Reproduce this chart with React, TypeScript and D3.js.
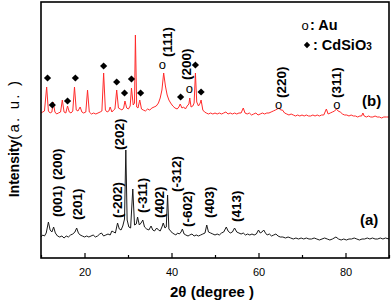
import { useEffect, useRef } from 'react'
import * as d3 from 'd3'

// pattern (a): [2θ, intensity]
const curveA: [number, number][] = [
  [10.0, 21], [10.4, 23], [10.8, 22], [11.2, 25], [11.7, 36], [12.1, 28], [12.5, 26], [12.9, 31], [13.3, 25],
  [13.8, 22], [14.3, 21], [14.8, 22], [15.3, 20], [15.8, 22], [16.3, 21], [16.8, 23], [17.3, 24], [17.8, 26],
  [18.2, 30], [18.6, 25], [19.0, 23], [19.5, 22], [20.0, 21], [20.5, 22], [21.0, 21], [21.5, 22], [22.0, 23],
  [22.5, 21], [23.0, 22], [23.5, 24], [23.9, 25], [24.4, 22], [24.9, 23], [25.4, 24], [25.9, 23], [26.3, 27],
  [26.7, 26], [27.1, 25], [27.6, 35], [28.0, 29], [28.4, 28], [28.8, 32], [29.2, 39], [29.5, 108], [29.8, 38],
  [30.2, 31], [30.6, 30], [31.1, 69], [31.5, 33], [31.9, 34], [32.2, 41], [32.6, 33], [33.0, 35], [33.4, 38],
  [33.8, 31], [34.3, 29], [34.8, 28], [35.3, 32], [35.7, 28], [36.1, 27], [36.6, 30], [37.0, 28], [37.4, 27],
  [37.8, 31], [38.1, 35], [38.5, 30], [38.8, 31], [39.1, 63], [39.4, 29], [39.8, 27], [40.2, 25], [40.6, 24],
  [41.0, 23], [41.4, 25], [41.8, 24], [42.2, 26], [42.5, 29], [42.9, 24], [43.3, 23], [43.8, 22], [44.2, 23],
  [44.7, 24], [45.2, 22], [45.7, 23], [46.2, 22], [46.7, 23], [47.2, 24], [47.7, 25], [48.1, 33], [48.5, 26],
  [49.0, 25], [49.5, 24], [50.0, 23], [50.5, 24], [51.0, 23], [51.5, 25], [52.0, 26], [52.6, 31], [53.0, 27],
  [53.5, 25], [54.0, 26], [54.5, 30], [55.0, 26], [55.5, 25], [56.0, 24], [56.5, 25], [57.0, 23], [57.5, 24],
  [58.0, 23], [58.5, 24], [59.0, 23], [59.5, 24], [60.0, 28], [60.4, 25], [60.8, 26], [61.2, 28], [61.6, 25],
  [62.0, 23], [62.5, 24], [63.0, 22], [63.5, 23], [64.0, 24], [64.5, 22], [65.0, 21], [65.6, 21], [66.2, 20],
  [66.8, 21], [67.4, 20], [68.0, 19], [68.6, 20], [69.2, 19], [69.8, 20], [70.4, 19], [71.0, 20], [71.6, 19],
  [72.2, 19], [72.8, 20], [73.4, 19], [74.0, 18], [74.6, 19], [75.2, 20], [75.8, 19], [76.4, 18], [77.0, 19],
  [77.8, 21], [78.4, 19], [79.0, 18], [79.6, 19], [80.2, 18], [80.8, 19], [81.4, 19], [82.0, 20], [82.6, 19],
  [83.2, 18], [83.8, 19], [84.4, 19], [85.0, 20], [85.6, 19], [86.2, 20], [86.8, 19], [87.4, 19], [88.0, 20],
  [88.6, 19], [89.2, 20], [90.0, 19],
]

// pattern (b): [2θ, intensity]
const curveB: [number, number][] = [
  [10.0, 145], [10.4, 146], [10.8, 147], [11.3, 171], [11.7, 147], [12.1, 145], [12.5, 146], [12.8, 156],
  [13.2, 146], [13.6, 144], [14.0, 145], [14.5, 146], [14.9, 158], [15.3, 146], [15.7, 145], [16.1, 152],
  [16.5, 146], [16.9, 145], [17.3, 147], [17.7, 171], [18.1, 148], [18.5, 147], [19.0, 151], [19.4, 146],
  [19.8, 145], [20.3, 146], [20.7, 168], [21.1, 146], [21.6, 144], [22.1, 145], [22.6, 144], [23.1, 145],
  [23.6, 146], [24.0, 147], [24.4, 185], [24.8, 148], [25.2, 146], [25.6, 147], [25.9, 151], [26.3, 146],
  [26.7, 148], [27.0, 149], [27.4, 168], [27.8, 150], [28.2, 149], [28.6, 148], [29.0, 150], [29.3, 157],
  [29.7, 150], [30.1, 149], [30.5, 152], [30.8, 170], [31.2, 153], [31.5, 155], [31.7, 223], [32.0, 151],
  [32.3, 150], [32.7, 158], [33.1, 149], [33.5, 148], [34.0, 147], [34.5, 149], [35.0, 148], [35.5, 150],
  [36.0, 151], [36.5, 152], [37.0, 155], [37.4, 160], [37.8, 168], [38.2, 185], [38.6, 172], [39.0, 163],
  [39.4, 158], [39.8, 155], [40.3, 152], [40.8, 150], [41.3, 149], [41.7, 151], [42.0, 154], [42.4, 150],
  [42.8, 151], [43.2, 149], [43.6, 152], [44.0, 154], [44.2, 160], [44.5, 151], [44.9, 152], [45.2, 155],
  [45.5, 185], [45.8, 156], [46.2, 152], [46.6, 155], [46.8, 158], [47.2, 148], [47.6, 146], [48.0, 145],
  [48.5, 144], [49.0, 145], [49.5, 144], [50.0, 145], [50.5, 144], [51.0, 145], [51.5, 144], [52.0, 145],
  [52.5, 146], [53.0, 144], [53.5, 145], [54.0, 144], [54.5, 145], [55.0, 144], [55.5, 145], [56.0, 145],
  [56.5, 150], [56.9, 145], [57.4, 144], [57.9, 145], [58.4, 143], [58.9, 144], [59.4, 145], [59.9, 143],
  [60.4, 144], [60.9, 145], [61.4, 144], [61.9, 145], [62.4, 145], [62.9, 146], [63.4, 147], [63.9, 148],
  [64.3, 149], [64.7, 150], [65.1, 148], [65.5, 148], [66.0, 145], [66.5, 144], [67.0, 143], [67.5, 144],
  [68.0, 143], [68.5, 142], [69.0, 143], [69.5, 142], [70.0, 143], [70.5, 142], [71.0, 143], [71.5, 142],
  [72.0, 142], [72.5, 143], [73.0, 142], [73.5, 143], [74.0, 142], [74.5, 143], [75.0, 143], [75.6, 149],
  [76.0, 144], [76.5, 145], [77.0, 146], [77.5, 147], [77.9, 149], [78.3, 147], [78.8, 146], [79.3, 144],
  [79.8, 143], [80.3, 143], [80.8, 142], [81.3, 143], [81.8, 142], [82.3, 142], [82.8, 141], [83.3, 142],
  [83.7, 142], [84.0, 145], [84.3, 142], [84.8, 141], [85.3, 142], [85.8, 141], [86.3, 141], [86.8, 142],
  [87.3, 141], [87.8, 141], [88.3, 140], [88.8, 141], [89.4, 141], [90.0, 141],
]

// CdSiO3 diamonds and Au circles above pattern (b)
const cdsio3Marks: [number, number][] = [
  [11.5, 180], [12.6, 153], [16.1, 157], [17.9, 180], [24.4, 192], [27.4, 176],
  [29.2, 165], [30.8, 179], [32.9, 165], [42.1, 161], [45.5, 193], [46.8, 166],
]
const auMarks: [number, number][] = [[37.9, 194], [44.1, 170], [64.6, 154], [78.0, 154]]

// rotated hkl labels: [text, 2θ, intensity at the bottom of the text]
const labelsB: [string, number, number][] = [
  ['(111)', 38.9, 201], ['(200)', 43.4, 178], ['(220)', 65.3, 160], ['(311)', 77.9, 160],
]
const labelsA: [string, number, number][] = [
  ['(001)', 13.6, 41], ['(200)', 13.6, 78], ['(201)', 18.4, 38], ['(202)', 28.0, 108],
  ['(-202)', 27.6, 40], ['(-311)', 33.3, 45], ['(402)', 37.2, 40], ['(-312)', 41.1, 66],
  ['(-602)', 43.7, 31], ['(403)', 48.7, 40], ['(413)', 54.9, 36],
]

const majorTicks = [20, 40, 60, 80]
const minorTicks = [10, 30, 50, 70, 90]

const W = 392
const H = 302
const M = { top: 2, right: 3, bottom: 44, left: 41 }
const FONT = '"Liberation Sans", Arial, sans-serif'

export default function App() {
  const svgRef = useRef<SVGSVGElement>(null)

  useEffect(() => {
    if (!svgRef.current) return
    const svg = d3.select(svgRef.current)
    svg.selectAll('*').remove()

    const x = d3.scaleLinear().domain([10, 90]).range([M.left, W - M.right])
    const y = d3.scaleLinear().domain([0, 256]).range([H - M.bottom, M.top])
    const bottom = H - M.bottom

    const line = d3.line<[number, number]>().x(d => x(d[0])).y(d => y(d[1]))

    svg.append('path').datum(curveA).attr('d', line)
      .attr('fill', 'none').attr('stroke', '#1a1a1a').attr('stroke-width', 1)
    svg.append('path').datum(curveB).attr('d', line)
      .attr('fill', 'none').attr('stroke', '#ff2a2a').attr('stroke-width', 1)

    // markers
    const diamond = d3.symbol().type(d3.symbolSquare).size(26)
    svg.selectAll('.cd').data(cdsio3Marks).join('path')
      .attr('d', diamond)
      .attr('transform', d => `translate(${x(d[0])},${y(d[1])}) rotate(45)`)
      .attr('fill', '#000')
    svg.selectAll('.au').data(auMarks).join('text')
      .attr('x', d => x(d[0])).attr('y', d => y(d[1]))
      .attr('text-anchor', 'middle').attr('dominant-baseline', 'central')
      .attr('font-family', FONT).attr('font-size', 13).attr('fill', '#000')
      .text('o')

    // hkl labels
    const lbls = [...labelsB, ...labelsA]
    svg.selectAll('.hkl').data(lbls).join('text')
      .attr('transform', d => `translate(${x(d[1])},${y(d[2])}) rotate(-90)`)
      .attr('dy', '0.36em')
      .attr('font-family', FONT).attr('font-weight', 700).attr('font-size', 13.5)
      .attr('fill', '#000')
      .text(d => d[0])

    // x axis with inward ticks
    svg.append('g').attr('transform', `translate(0,${bottom})`)
      .call(d3.axisBottom(x).tickValues(minorTicks).tickSize(-3).tickFormat(() => ''))
      .call(ax => ax.select('.domain').remove())
      .call(ax => ax.selectAll('.tick line').attr('stroke', '#000').attr('stroke-width', 1.2))
    svg.append('g').attr('transform', `translate(0,${bottom})`)
      .call(d3.axisBottom(x).tickValues(majorTicks).tickSize(-5).tickPadding(10).tickFormat(d3.format('d')))
      .call(ax => ax.select('.domain').remove())
      .call(ax => {
        ax.selectAll('.tick line').attr('stroke', '#000').attr('stroke-width', 1.2)
        ax.selectAll('text').attr('fill', '#000').attr('font-size', 11).attr('font-family', FONT)
      })

    // frame
    svg.append('rect')
      .attr('x', M.left).attr('y', M.top)
      .attr('width', W - M.left - M.right).attr('height', bottom - M.top)
      .attr('fill', 'none').attr('stroke', '#000').attr('stroke-width', 1.6)

    // axis titles
    svg.append('text').attr('x', 212).attr('y', 297).attr('text-anchor', 'middle')
      .attr('font-family', FONT).attr('font-weight', 700).attr('font-size', 15).attr('fill', '#000')
      .text('2θ (degree )')
    const yt = svg.append('text')
      .attr('transform', `translate(19,${(M.top + bottom) / 2 + 8}) rotate(-90)`)
      .attr('text-anchor', 'middle').attr('font-family', FONT).attr('fill', '#000')
    yt.append('tspan').attr('font-weight', 700).attr('font-size', 14).text('Intensity')
    yt.append('tspan').attr('font-size', 15).attr('letter-spacing', 2.2).text('(a. u. )')

    // pattern tags
    svg.append('text').attr('x', 362).attr('y', 106)
      .attr('font-family', FONT).attr('font-weight', 700).attr('font-size', 15).text('(b)')
    svg.append('text').attr('x', 360).attr('y', 225)
      .attr('font-family', FONT).attr('font-weight', 700).attr('font-size', 15).text('(a)')

    // legend
    const lg = svg.append('g').attr('font-family', FONT).attr('fill', '#000')
    lg.append('text').attr('x', 305).attr('y', 25).attr('text-anchor', 'middle')
      .attr('dominant-baseline', 'central').attr('font-size', 13).text('o')
    lg.append('text').attr('x', 310).attr('y', 30)
      .attr('font-weight', 700).attr('font-size', 14.5).text(': Au')
    lg.append('path').attr('d', d3.symbol().type(d3.symbolSquare).size(20)())
      .attr('transform', 'translate(307,45) rotate(45)').attr('fill', '#000')
    const cd = lg.append('text').attr('x', 313).attr('y', 50)
      .attr('font-weight', 700).attr('font-size', 14.5)
    cd.append('tspan').text(': CdSiO')
    cd.append('tspan').attr('font-size', 10).text('3')
  }, [])

  return (
    <svg ref={svgRef} width={W} height={H}
      style={{ position: 'fixed', top: 0, left: 0, background: '#fff', display: 'block' }} />
  )
}
